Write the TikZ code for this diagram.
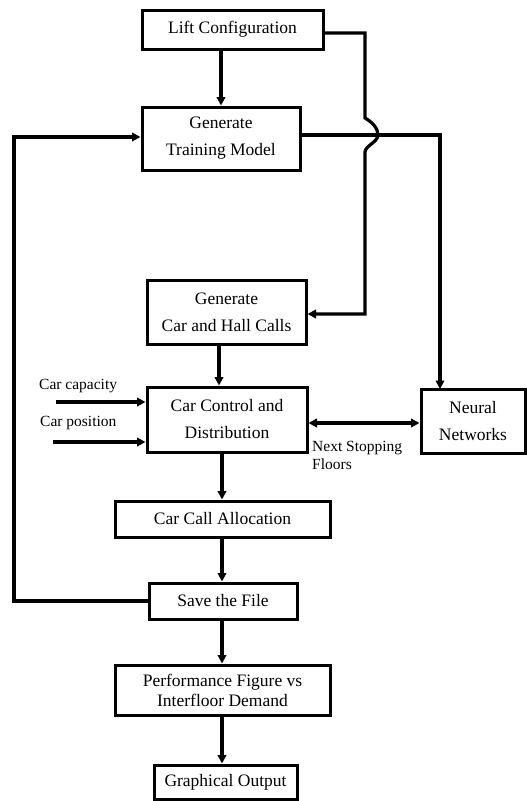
\documentclass[tikz,border=0pt]{standalone}
\usepackage{fontspec}
\setmainfont{Liberation Serif}
\usetikzlibrary{arrows.meta}

\tikzset{
  box/.style={draw, line width=3pt, align=center, inner sep=0pt,
              font=\fontsize{17.5}{27}\selectfont},
  arr/.style={line width=3.2pt, -{Triangle[length=8.5pt,width=8.5pt]}},
  arrboth/.style={line width=3.2pt, {Triangle[length=8.5pt,width=8.5pt]}-{Triangle[length=8.5pt,width=8.5pt]}},
  lbl/.style={font=\fontsize{15.5}{18}\selectfont, align=left, inner sep=0pt}
}

\begin{document}
\begin{tikzpicture}[x=1pt, y=-1pt]

  \useasboundingbox (0,0) rectangle (527,801);

  % boxes of the main column
  \node (lift)    at (232.5, 29.5) [box, minimum width=181pt, minimum height=39pt] {Lift Configuration};
  \node (train)   at (221, 138.5)  [box, minimum width=158pt, minimum height=63pt] {Generate\\Training Model};
  \node (calls)   at (226.5, 312)  [box, minimum width=159pt, minimum height=64pt] {Generate\\Car and Hall Calls};
  \node (control) at (227, 419.5)  [box, minimum width=160pt, minimum height=65pt] {Car Control and\\Distribution};
  \node (alloc)   at (222.5, 519)  [box, minimum width=215pt, minimum height=36pt] {Car Call Allocation};
  \node (save)    at (223, 601)    [box, minimum width=148pt, minimum height=36pt] {Save the File};
  \node (perf)    at (222.5, 690)  [box, minimum width=215pt, minimum height=50pt,
                                    font=\fontsize{17.5}{20}\selectfont] {Performance Figure vs\\Interfloor Demand};
  \node (graph)   at (225.5, 782)  [box, minimum width=143pt, minimum height=34pt] {Graphical Output};

  % box on the right
  \node (neural)  at (473, 421)    [box, minimum width=104pt, minimum height=64pt] {Neural\\Networks};

  % side labels
  \node (cap)   at (39, 386) [lbl, anchor=west] {Car capacity};
  \node (pos)   at (40, 423) [lbl, anchor=west] {Car position};
  \node (next)  at (312, 455) [lbl, anchor=west] {Next Stopping\\Floors};

  % free ends
  \coordinate (capin) at (56, 402);
  \coordinate (posin) at (53, 442);
  \coordinate (loop)  at (14, 601);
  \coordinate (nnin)  at (440, 389);

  % main column arrows
  \draw[arr] (train.north |- lift.south) -- (train.north);
  \draw[arr] (calls.south -| 219,0) -- (control.north -| 219,0);
  \draw[arr] (control.south -| 222,0) -- (alloc.north -| 222,0);
  \draw[arr] (alloc.south -| 222,0) -- (save.north -| 222,0);
  \draw[arr] (save.south -| 222,0) -- (perf.north -| 222,0);
  \draw[arr] (perf.south -| 222,0) -- (graph.north -| 222,0);

  % inputs on the left
  \draw[arr] (capin) -- (control.west |- capin);
  \draw[arr] (posin) -- (control.west |- posin);

  % lift configuration to car and hall calls, jumping the line
  \draw[arr] (lift.east |- 0,33) -- (365,33) -- (365,118)
        .. controls (372,122) and (378,128) .. (378,135)
        .. controls (378,142) and (365,146) .. (365,152)
        -- (365,314) -- (calls.east |- 0,314);

  % training model to neural networks
  \draw[arr] (train.east |- 0,135) -| (nnin);

  % next stopping floors
  \draw[arrboth] (control.east |- 0,423) -- (neural.west |- 0,423);

  % feedback loop
  \draw[arr] (save.west) -- (loop) |- (train.west |- 0,137);

\end{tikzpicture}
\end{document}
